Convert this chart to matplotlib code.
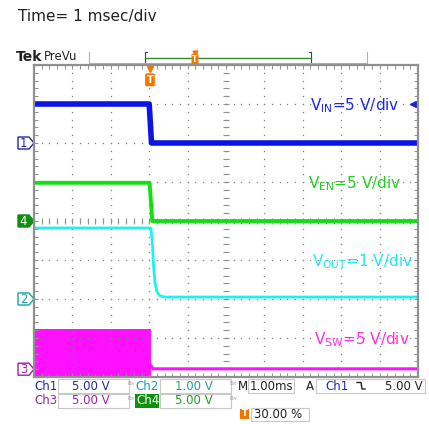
import numpy as np
import matplotlib
matplotlib.use('Agg')
import matplotlib.pyplot as plt
from matplotlib.patches import Rectangle, Polygon

# scope settings
voltsPerDiv = {'ch1': 5.0, 'ch2': 1.0, 'ch3': 5.0, 'ch4': 5.0}
groundDiv = {'ch1': 2.0, 'ch2': -2.0, 'ch3': -3.8, 'ch4': 0.0}
triggerPos = 3.0   # divisions from left (30 %)

# traces (time in ms, volts)
vinT = [-3.0, 0.0, 0.06, 7.0]
vinV = [5.0, 5.0, 0.0, 0.0]

venT = [-3.0, 0.01, 0.08, 7.0]
venV = [4.9, 4.9, 0.0, 0.0]

voutT = [-3.0, 0.03, 0.047, 0.086, 0.112, 0.151, 0.203, 0.281, 0.41, 7.0]
voutV = [1.82, 1.82, 1.8, 1.38, 0.87, 0.41, 0.18, 0.08, 0.05, 0.05]

vswT = [-3.0, 0.04]
vswHigh = [5.1, 5.1]
vswLow = [-0.95, -0.95]
vswAfterT = [0.04, 0.1, 7.0]
vswAfterV = [0.5, 0.05, 0.05]

traceColors = {'ch1': '#0a14e6', 'ch2': '#20f0f0', 'ch3': '#ff10ff', 'ch4': '#10e010'}
readColors = {'ch1': '#2828a0', 'ch2': '#1fa0a0', 'ch3': '#a020a8', 'ch4': '#20a020'}

W, H = 429, 424
fig = plt.figure(figsize=(W / 100, H / 100), dpi=100)
fig.patch.set_facecolor('white')

def pxAxes(x0, y0, x1, y1):
    return fig.add_axes([x0 / W, 1 - y1 / H, (x1 - x0) / W, (y1 - y0) / H])

# overlay in pixel units for header/readouts
hud = pxAxes(0, 0, W, H)
hud.set_xlim(0, W)
hud.set_ylim(H, 0)
hud.axis('off')

ax = pxAxes(34, 65, 418, 377)
ax.set_xlim(-triggerPos, 10 - triggerPos)
ax.set_ylim(-4, 4)
ax.set_facecolor('white')

def toDiv(ch, v):
    return np.array(v) / voltsPerDiv[ch] + groundDiv[ch]

# graticule dots
for gx in range(-3, 8):
    ys = np.arange(-4, 4.01, 0.2)
    ax.plot(np.full_like(ys, gx), ys, ls='none', marker='s', ms=0.9, color='#808080', mec='none')
for gy in range(-4, 5):
    xs = np.arange(-3, 7.01, 0.2)
    ax.plot(xs, np.full_like(xs, gy), ls='none', marker='s', ms=0.9, color='#808080', mec='none')
# center cross ticks
xs = np.arange(-3, 7.01, 0.2)
ys = np.arange(-4, 4.01, 0.2)
ax.plot(xs, np.zeros_like(xs), ls='none', marker='|', ms=4, mew=0.8, color='#909090')
ax.plot(np.full_like(ys, 2.0), ys, ls='none', marker='_', ms=4, mew=0.8, color='#909090')

ax.set_xticks([])
ax.set_yticks([])
ax.set_xticks(np.arange(-3, 7.01, 0.2), minor=True)
ax.set_yticks(np.arange(-4, 4.01, 0.2), minor=True)
ax.tick_params(which='minor', direction='in', length=3, width=0.7, color='#909090',
               top=True, right=True, labelbottom=False, labelleft=False)
for s in ax.spines.values():
    s.set_color('#909090')
    s.set_linewidth(1.6)

# traces
ax.fill_between(vswT, toDiv('ch3', vswLow), toDiv('ch3', vswHigh), color=traceColors['ch3'], lw=0)
ax.plot(vswAfterT, toDiv('ch3', vswAfterV), color=traceColors['ch3'], lw=2.2)
ax.plot(voutT, toDiv('ch2', voutV), color=traceColors['ch2'], lw=2.0)
ax.plot(venT, toDiv('ch4', venV), color=traceColors['ch4'], lw=2.8)
ax.plot(vinT, toDiv('ch1', vinV), color=traceColors['ch1'], lw=4.0)

# trace labels
ax.text(4.18, 2.95, r'V$_{\mathregular{IN}}$=5 V/div', color='#1a28f0', fontsize=11, va='center')
ax.text(4.13, 0.95, r'V$_{\mathregular{EN}}$=5 V/div', color='#20d020', fontsize=11, va='center')
ax.text(4.23, -1.05, r'V$_{\mathregular{OUT}}$=1 V/div', color='#20e8f0', fontsize=11, va='center')
ax.text(4.28, -3.05, r'V$_{\mathregular{SW}}$=5 V/div', color='#ff30e0', fontsize=11, va='center')

# trigger level arrow (ch1 5 V)
ax.plot([6.88], [toDiv('ch1', 5.0)], marker='<', ms=4, color='#1a28c0', clip_on=False)

# trigger position marker
ax.plot([0.02], [3.9], marker='v', ms=5, color='#f07800', clip_on=False)
ax.text(0.02, 3.62, 'T', color='white', fontsize=7, fontweight='bold', ha='center', va='center',
        bbox=dict(boxstyle='round,pad=0.15', fc='#f07800', ec='none'))

# channel ground markers
def chMarker(ch, label, filled):
    yc = 221 - groundDiv[ch] * 39
    pts = [(18, yc - 6), (29, yc - 6), (34, yc), (29, yc + 6), (18, yc + 6)]
    col = readColors[ch] if ch != 'ch4' else '#109010'
    hud.add_patch(Polygon(pts, closed=True, fc=col if filled else 'white', ec=col, lw=1))
    hud.text(23.5, yc + 0.5, label, color='white' if filled else col, fontsize=8.5,
             ha='center', va='center')

chMarker('ch1', '1', False)
chMarker('ch4', '4', True)
chMarker('ch2', '2', False)
chMarker('ch3', '3', False)

# header
hud.text(18, 16, 'Time= 1 msec/div', fontsize=11, color='#222222', va='center')
hud.text(16, 57, 'Tek', fontsize=10, fontweight='bold', color='#222222', va='center')
hud.text(44, 56, 'PreVu', fontsize=8.5, color='#222222', va='center')
hud.plot([89, 89, 367, 367], [52, 63, 63, 52], color='#b0b0b0', lw=0.8)
hud.plot([145, 145], [52, 62], color='#444444', lw=0.8)
hud.plot([311, 311], [52, 62], color='#444444', lw=0.8)
hud.plot([145, 147], [52, 52], color='#444444', lw=0.8)
hud.plot([309, 311], [52, 52], color='#444444', lw=0.8)
hud.plot([145, 311], [57.5, 57.5], color='#2e8b2e', lw=1)
hud.plot([195], [53], marker='v', ms=3.5, color='#f07800')
hud.text(195, 59, 'T', color='white', fontsize=5.5, fontweight='bold', ha='center', va='center',
         bbox=dict(boxstyle='round,pad=0.1', fc='#f07800', ec='none'))

# readouts
def box(x0, y0, x1, y1):
    hud.add_patch(Rectangle((x0, y0), x1 - x0, y1 - y0, fc='white', ec='#c8c8c8', lw=0.8))

fs = 8.5
hud.text(34, 386, 'Ch1', color=readColors['ch1'], fontsize=fs, va='center')
box(58, 379, 129, 393)
hud.text(110, 386, '5.00 V', color=readColors['ch1'], fontsize=fs, va='center', ha='right')
hud.text(131, 384, 'B$_{W}$', color='#a0a0a0', fontsize=3.5, va='center', ha='center')
hud.text(135.5, 386, 'Ch2', color=readColors['ch2'], fontsize=fs, va='center')
box(160, 379, 231, 393)
hud.text(213, 386, '1.00 V', color=readColors['ch2'], fontsize=fs, va='center', ha='right')
hud.text(233, 384, 'B$_{W}$', color='#a0a0a0', fontsize=3.5, va='center', ha='center')
hud.text(237.5, 386, 'M', color='#222222', fontsize=fs, va='center')
box(248, 379, 294, 393)
hud.text(250, 386, '1.00ms', color='#222222', fontsize=fs, va='center')
hud.text(306, 386, 'A', color='#222222', fontsize=fs, va='center')
box(316, 379, 425, 393)
hud.text(325, 386, 'Ch1', color=readColors['ch1'], fontsize=fs, va='center')
hud.plot([357, 361, 362, 365], [382.5, 382.5, 389, 389], color='#222222', lw=1)
hud.text(423, 386, '5.00 V', color='#222222', fontsize=fs, va='center', ha='right')

hud.text(34, 401, 'Ch3', color=readColors['ch3'], fontsize=fs, va='center')
box(58, 394, 129, 408)
hud.text(110, 401, '5.00 V', color=readColors['ch3'], fontsize=fs, va='center', ha='right')
hud.text(131, 399, 'B$_{W}$', color='#a0a0a0', fontsize=3.5, va='center', ha='center')
hud.add_patch(Rectangle((135, 394), 24, 14, fc='#109010', ec='none'))
hud.text(136, 401, 'Ch4', color='white', fontsize=fs, va='center')
box(160, 394, 231, 408)
hud.text(213, 401, '5.00 V', color=readColors['ch4'], fontsize=fs, va='center', ha='right')
hud.text(233, 399, 'B$_{W}$', color='#a0a0a0', fontsize=3.5, va='center', ha='center')

hud.add_patch(Rectangle((240, 409), 9, 10, fc='#f07800', ec='none'))
hud.text(244.5, 414, 'T', color='white', fontsize=6, fontweight='bold', ha='center', va='center')
box(251, 408, 309, 421)
hud.text(254, 414.5, '30.00 %', color='#222222', fontsize=fs, va='center')

fig.savefig('out.png', dpi=100)
